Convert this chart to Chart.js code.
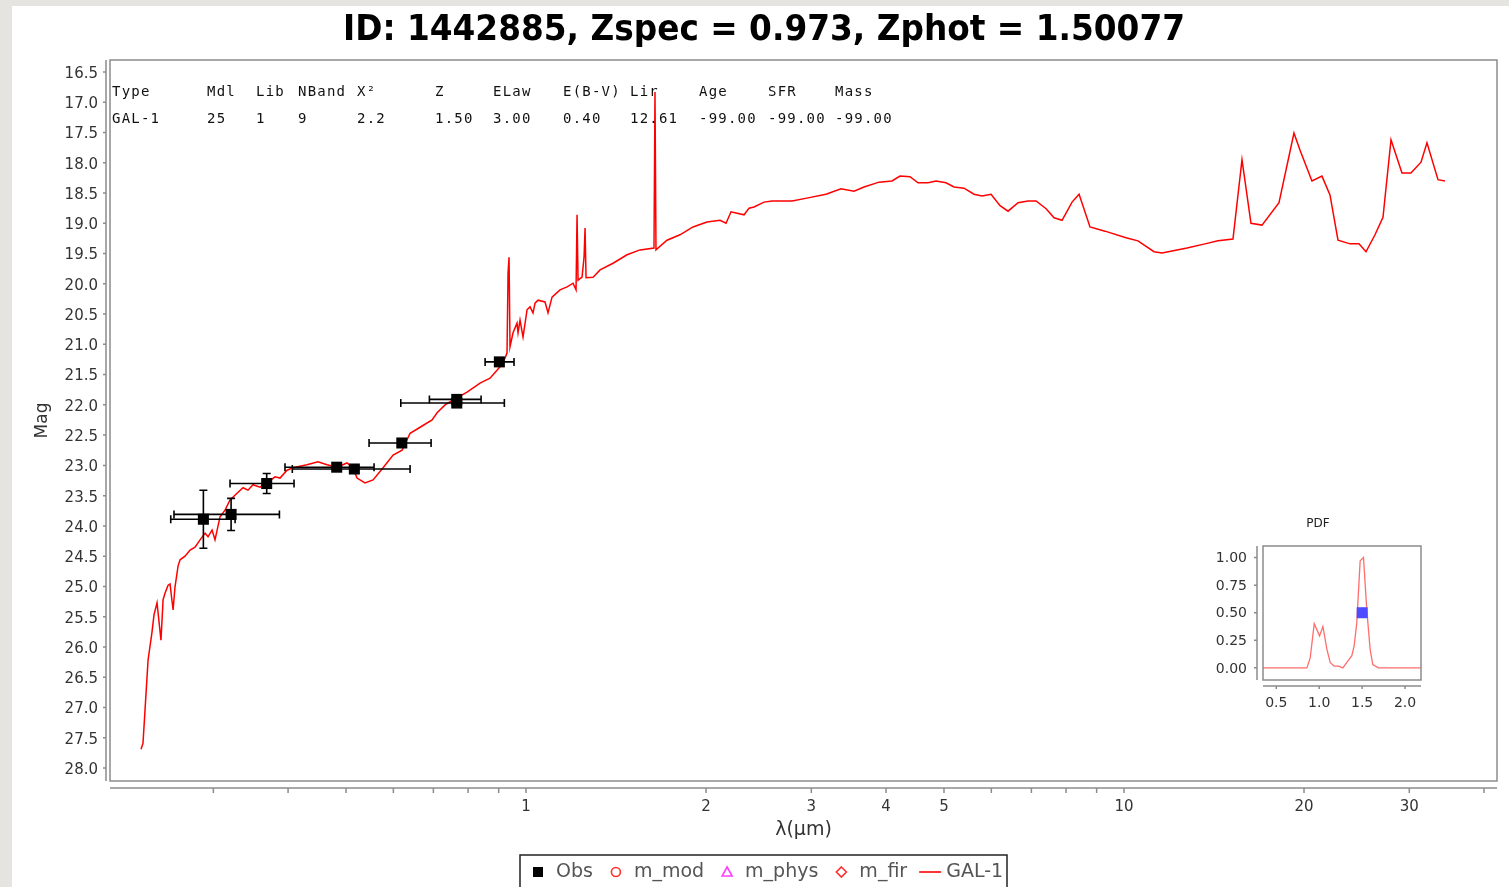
<!DOCTYPE html>
<html>
<head>
<meta charset="utf-8">
<script src="https://cdn.jsdelivr.net/npm/chart.js@4.4.0/dist/chart.umd.min.js"></script>
<style>
html, body { margin: 0; padding: 0; background: #e6e4e1; width: 1509px; height: 887px; overflow: hidden; }
#panel { position: absolute; left: 12px; top: 6px; width: 1497px; height: 881px; background: #fff; }
#mainChart { position: absolute; left: 0; top: 0; }
#pdfChart { position: absolute; left: 1178px; top: 499px; }
</style>
</head>
<body>
<div id="panel">
  <canvas id="mainChart" width="1497" height="881"></canvas>
  <canvas id="pdfChart" width="250" height="215"></canvas>
</div>
<script>
// SED of the best fit template (lambda in micron, AB mag)
const specLambda = [0.2271, 0.2288, 0.2306, 0.2333, 0.2369, 0.2387, 0.2415, 0.2452, 0.2472, 0.2491,
  0.2520, 0.2539, 0.2569, 0.2588, 0.2619, 0.2639, 0.2690, 0.2743, 0.2796, 0.2850,
  0.2906, 0.2939, 0.2985, 0.3019, 0.3078, 0.3138, 0.3199, 0.3286, 0.3363, 0.3428,
  0.3495, 0.3590, 0.3688, 0.3804, 0.3878, 0.3984, 0.4077, 0.4302, 0.4488, 0.4647,
  0.4830, 0.5019, 0.5137, 0.5216, 0.5380, 0.5549, 0.5767, 0.5994, 0.6205, 0.6399,
  0.6650, 0.6965, 0.7100, 0.7322, 0.7551, 0.7969, 0.8377, 0.8706, 0.9047, 0.9223,
  0.9295, 0.9331, 0.9367, 0.9402, 0.9512, 0.9659, 0.9697, 0.9772, 0.9885, 1.0039,
  1.0155, 1.0273, 1.0353, 1.0473, 1.0759, 1.0884, 1.1053, 1.1399, 1.1711, 1.1985,
  1.2124, 1.2171, 1.2218, 1.2408, 1.2504, 1.2552, 1.2600, 1.2945, 1.3299, 1.3981,
  1.4754, 1.5510, 1.6368, 1.6431, 1.6494, 1.7209, 1.8092, 1.9021, 2.0077, 2.1107,
  2.1601, 2.2021, 2.2449, 2.3152, 2.3603, 2.4061, 2.5003, 2.5786, 2.7858, 2.9620,
  3.1744, 3.3633, 3.5358, 3.6747, 3.8933, 4.0930, 4.2212, 4.3869, 4.5244, 4.7022,
  4.8494, 5.0393, 5.1968, 5.4007, 5.6128, 5.7889, 5.9930, 6.2047, 6.3991, 6.6502,
  6.9117, 7.1281, 7.4079, 7.6385, 7.8778, 8.1873, 8.4113, 8.7727, 9.2953, 10.077,
  10.554, 11.224, 11.575, 12.746, 13.659, 14.360, 15.214, 15.751, 16.306, 17.013,
  18.163, 19.241, 19.690, 20.621, 21.431, 22.104, 22.796, 23.874, 24.715, 25.391,
  26.286, 27.109, 27.958, 29.164, 30.192, 31.379, 32.112, 33.503, 34.416];
const specMag = [27.69, 27.59, 27.04, 26.22, 25.75, 25.47, 25.27, 25.89, 25.22, 25.11,
  24.98, 24.96, 25.39, 25.01, 24.66, 24.56, 24.50, 24.40, 24.35, 24.23,
  24.12, 24.18, 24.07, 24.23, 23.85, 23.74, 23.57, 23.46, 23.37, 23.41,
  23.32, 23.36, 23.29, 23.19, 23.21, 23.08, 23.04, 22.99, 22.94, 22.99,
  23.03, 22.96, 23.04, 23.21, 23.29, 23.24, 23.04, 22.83, 22.75, 22.47,
  22.37, 22.25, 22.13, 22.00, 21.92, 21.79, 21.64, 21.56, 21.37, 21.23,
  21.14, 19.82, 19.56, 21.04, 20.81, 20.65, 20.81, 20.60, 20.88, 20.43,
  20.38, 20.48, 20.32, 20.27, 20.30, 20.48, 20.22, 20.10, 20.05, 19.99,
  20.10, 18.86, 19.94, 19.89, 19.56, 19.08, 19.90, 19.89, 19.77, 19.66,
  19.52, 19.44, 19.41, 16.83, 19.44, 19.28, 19.19, 19.06, 18.98, 18.95,
  19.00, 18.81, 18.83, 18.86, 18.75, 18.73, 18.65, 18.63, 18.63, 18.58,
  18.52, 18.43, 18.47, 18.40, 18.32, 18.30, 18.22, 18.23, 18.33, 18.33,
  18.30, 18.33, 18.40, 18.42, 18.52, 18.55, 18.52, 18.71, 18.80, 18.66,
  18.63, 18.63, 18.76, 18.91, 18.95, 18.65, 18.52, 19.06, 19.13, 19.24,
  19.29, 19.47, 19.49, 19.41, 19.34, 19.29, 19.26, 17.95, 19.00, 19.03,
  18.66, 17.51, 17.79, 18.30, 18.22, 18.53, 19.28, 19.34, 19.34, 19.47,
  19.19, 18.90, 17.62, 18.17, 18.17, 17.99, 17.67, 18.28, 18.30];

// observed photometry (9 bands)
const obsLambda = [0.2887, 0.3212, 0.3684, 0.4824, 0.5163, 0.6198, 0.7659, 0.7659, 0.9024];
const obsMag = [23.89, 23.81, 23.30, 23.03, 23.06, 22.63, 21.97, 21.91, 21.29];
const obsMagErr = [0.48, 0.265, 0.165, 0.06, 0.06, 0.06, 0.06, 0.06, 0.06];
const obsLambdaLo = [0.2546, 0.2578, 0.3199, 0.3953, 0.4066, 0.5464, 0.6174, 0.6893, 0.8542];
const obsLambdaHi = [0.3262, 0.3869, 0.4093, 0.5570, 0.6399, 0.6938, 0.9199, 0.8411, 0.9548];

// redshift PDF
const pdfZ = [0.345, 0.857, 0.895, 0.942, 1.004, 1.043, 1.089, 1.128, 1.174, 1.225, 1.275,
  1.322, 1.380, 1.407, 1.438, 1.477, 1.516, 1.554, 1.593, 1.624, 1.690, 2.186];
const pdfProb = [0, 0, 0.09, 0.40, 0.29, 0.375, 0.17, 0.05, 0.015, 0.015, 0,
  0.05, 0.11, 0.20, 0.41, 0.97, 1.0, 0.53, 0.17, 0.03, 0, 0];
const zPhotMark = [1.50077];
const zPhotLevel = [0.5];

// axes
const xTickValues = [0.3, 0.4, 0.5, 0.6, 0.7, 0.8, 0.9, 1, 2, 3, 4, 5, 6, 7, 8, 9, 10, 20, 30, 40];
const xTickLabels = [1, 2, 3, 4, 5, 10, 20, 30];
const yTickValues = [16.5, 17.0, 17.5, 18.0, 18.5, 19.0, 19.5, 20.0, 20.5, 21.0, 21.5, 22.0,
  22.5, 23.0, 23.5, 24.0, 24.5, 25.0, 25.5, 26.0, 26.5, 27.0, 27.5, 28.0];
const pdfXTicks = [0.5, 1.0, 1.5, 2.0];
const pdfYTicks = [0, 0.25, 0.5, 0.75, 1.0];

// header text
const chartTitle = 'ID: 1442885, Zspec = 0.973, Zphot = 1.50077';
const tableHeaders = ['Type', 'Mdl', 'Lib', 'NBand', 'X²', 'Z', 'ELaw', 'E(B-V)', 'Lir', 'Age', 'SFR', 'Mass'];
const tableValues = ['GAL-1', '25', '1', '9', '2.2', '1.50', '3.00', '0.40', '12.61', '-99.00', '-99.00', '-99.00'];
const tableColX = [100, 195, 244, 286, 345, 423, 481, 551, 618, 687, 756, 823];

Chart.defaults.font.family = "'DejaVu Sans', sans-serif";
Chart.defaults.animation = false;

const toPoints = function (xs, ys) {
    return xs.map((x, i) => ({x: x, y: ys[i]}));
};

// frame, offset axis lines, error bars, title, table and legend
const sedDecor = {
    id: 'sedDecor',
    afterDatasetsDraw(chart) {
        const ctx = chart.ctx, sx = chart.scales.x, sy = chart.scales.y;
        ctx.save();
        ctx.strokeStyle = '#000';
        ctx.lineWidth = 1.6;
        for (let i = 0; i < obsLambda.length; i++) {
            const px = sx.getPixelForValue(obsLambda[i]);
            const py = sy.getPixelForValue(obsMag[i]);
            const x0 = sx.getPixelForValue(obsLambdaLo[i]);
            const x1 = sx.getPixelForValue(obsLambdaHi[i]);
            const y0 = sy.getPixelForValue(obsMag[i] - obsMagErr[i]);
            const y1 = sy.getPixelForValue(obsMag[i] + obsMagErr[i]);
            ctx.beginPath();
            ctx.moveTo(x0, py); ctx.lineTo(x1, py);
            ctx.moveTo(x0, py - 4); ctx.lineTo(x0, py + 4);
            ctx.moveTo(x1, py - 4); ctx.lineTo(x1, py + 4);
            ctx.moveTo(px, y0); ctx.lineTo(px, y1);
            ctx.moveTo(px - 4, y0); ctx.lineTo(px + 4, y0);
            ctx.moveTo(px - 4, y1); ctx.lineTo(px + 4, y1);
            ctx.stroke();
        }
        ctx.restore();
    },
    afterDraw(chart) {
        const ctx = chart.ctx, a = chart.chartArea, sx = chart.scales.x, sy = chart.scales.y;
        ctx.save();
        // plot frame
        ctx.strokeStyle = '#8c8c8c';
        ctx.lineWidth = 1.5;
        ctx.strokeRect(a.left, a.top, a.right - a.left, a.bottom - a.top);
        // x axis line + ticks
        const axY = a.bottom + 7;
        ctx.beginPath();
        ctx.moveTo(a.left, axY); ctx.lineTo(a.right, axY);
        xTickValues.forEach(v => {
            const px = sx.getPixelForValue(v);
            ctx.moveTo(px, axY); ctx.lineTo(px, axY + 5);
        });
        // y axis line + ticks
        const axX = a.left - 4;
        ctx.moveTo(axX, a.top); ctx.lineTo(axX, a.bottom);
        yTickValues.forEach(v => {
            const py = sy.getPixelForValue(v);
            ctx.moveTo(axX, py); ctx.lineTo(axX - 3, py);
        });
        ctx.stroke();

        // title, squeezed to the reference width
        ctx.fillStyle = '#000';
        ctx.font = "bold 36px 'DejaVu Sans'";
        ctx.textBaseline = 'middle';
        ctx.textAlign = 'center';
        const tw = ctx.measureText(chartTitle).width;
        ctx.save();
        ctx.translate(752, 25);
        ctx.scale(842 / tw, 1);
        ctx.fillText(chartTitle, 0, 0);
        ctx.restore();

        // fit summary table
        ctx.font = "14px 'DejaVu Sans Mono'";
        ctx.letterSpacing = '1.2px';
        ctx.textAlign = 'left';
        ctx.fillStyle = '#111';
        tableHeaders.forEach((t, i) => ctx.fillText(t, tableColX[i], 86));
        tableValues.forEach((t, i) => ctx.fillText(t, tableColX[i], 113));
        ctx.letterSpacing = '0px';

        // legend
        const boxL = 508, boxT = 849, boxR = 995;
        ctx.fillStyle = '#fff';
        ctx.fillRect(boxL, boxT, boxR - boxL, 40);
        ctx.strokeStyle = '#222';
        ctx.lineWidth = 1.5;
        ctx.strokeRect(boxL, boxT, boxR - boxL, 40);
        ctx.font = "19px 'DejaVu Sans'";
        ctx.textBaseline = 'middle';
        const cy = 866;
        let cur = boxL + 13;
        chart.data.datasets.forEach(ds => {
            const col = ds.borderColor;
            ctx.lineWidth = 1.6;
            ctx.strokeStyle = col;
            ctx.fillStyle = col;
            let textX;
            if (ds.legendMark === 'line') {
                cur -= 6;
                ctx.beginPath(); ctx.moveTo(cur, cy); ctx.lineTo(cur + 22, cy); ctx.stroke();
                textX = cur + 27;
            } else {
                const cx = cur + 5;
                ctx.beginPath();
                if (ds.legendMark === 'rect') {
                    ctx.fillRect(cx - 5, cy - 5, 10, 10);
                } else if (ds.legendMark === 'circle') {
                    ctx.arc(cx, cy, 4.5, 0, Math.PI * 2); ctx.stroke();
                } else if (ds.legendMark === 'triangle') {
                    ctx.moveTo(cx, cy - 5); ctx.lineTo(cx + 5, cy + 4); ctx.lineTo(cx - 5, cy + 4);
                    ctx.closePath(); ctx.stroke();
                } else if (ds.legendMark === 'diamond') {
                    ctx.moveTo(cx, cy - 5); ctx.lineTo(cx + 5, cy); ctx.lineTo(cx, cy + 5); ctx.lineTo(cx - 5, cy);
                    ctx.closePath(); ctx.stroke();
                }
                textX = cx + 18;
            }
            ctx.fillStyle = '#555';
            ctx.fillText(ds.label, textX, cy);
            cur = textX + ctx.measureText(ds.label).width + 18;
        });
        ctx.restore();
    }
};

const mainChart = new Chart(document.getElementById('mainChart'), {
    type: 'line',
    data: {
        datasets: [{
            label: 'Obs',
            legendMark: 'rect',
            data: toPoints(obsLambda, obsMag),
            showLine: false,
            pointStyle: 'rect',
            pointRadius: 7.8,
            backgroundColor: '#000',
            borderColor: '#000',
            borderWidth: 0
        }, {
            label: 'm_mod',
            legendMark: 'circle',
            data: [],
            showLine: false,
            pointStyle: 'circle',
            borderColor: '#ff3030'
        }, {
            label: 'm_phys',
            legendMark: 'triangle',
            data: [],
            showLine: false,
            pointStyle: 'triangle',
            borderColor: '#ff40ff'
        }, {
            label: 'm_fir',
            legendMark: 'diamond',
            data: [],
            showLine: false,
            pointStyle: 'rectRot',
            borderColor: '#ff3030'
        }, {
            label: 'GAL-1',
            legendMark: 'line',
            data: toPoints(specLambda, specMag),
            borderColor: '#ff0000',
            borderWidth: 1.5,
            pointRadius: 0,
            tension: 0,
            fill: false
        }]
    },
    options: {
        responsive: false,
        layout: {padding: {top: 54, right: 12, bottom: 36, left: 0}},
        plugins: {
            legend: {display: false},
            tooltip: {enabled: false}
        },
        scales: {
            x: {
                type: 'logarithmic',
                min: 0.2015,
                max: 42.05,
                afterBuildTicks: s => { s.ticks = xTickValues.map(v => ({value: v})); },
                afterFit: s => { s.height = 70; },
                ticks: {
                    autoSkip: false,
                    maxRotation: 0,
                    padding: 17,
                    color: '#333',
                    font: {size: 15},
                    callback: v => xTickLabels.includes(v) ? String(v) : ''
                },
                grid: {display: false, drawTicks: false},
                border: {display: false},
                title: {display: true, text: 'λ(µm)', color: '#333', font: {size: 19}, padding: {top: 0, bottom: 10}}
            },
            y: {
                type: 'linear',
                reverse: true,
                min: 16.302,
                max: 28.215,
                afterBuildTicks: s => { s.ticks = yTickValues.map(v => ({value: v})); },
                afterFit: s => { s.width = 98; },
                ticks: {
                    autoSkip: false,
                    padding: 12,
                    labelOffset: 2,
                    color: '#333',
                    font: {size: 15},
                    callback: v => v.toFixed(1)
                },
                grid: {display: false, drawTicks: false},
                border: {display: false},
                title: {display: true, text: 'Mag', color: '#333', font: {size: 17}, padding: {top: 20, bottom: 0}}
            }
        }
    },
    plugins: [sedDecor]
});

// inset: redshift probability
const pdfDecor = {
    id: 'pdfDecor',
    afterDraw(chart) {
        const ctx = chart.ctx, a = chart.chartArea, sx = chart.scales.x, sy = chart.scales.y;
        ctx.save();
        ctx.strokeStyle = '#8c8c8c';
        ctx.lineWidth = 1.5;
        ctx.strokeRect(a.left, a.top, a.right - a.left, a.bottom - a.top);
        ctx.beginPath();
        const axX = a.left - 6, axY = a.bottom + 6;
        ctx.moveTo(axX, a.top); ctx.lineTo(axX, a.bottom);
        ctx.moveTo(a.left, axY); ctx.lineTo(a.right, axY);
        pdfXTicks.forEach(v => {
            const px = sx.getPixelForValue(v);
            ctx.moveTo(px, axY); ctx.lineTo(px, axY + 3);
        });
        pdfYTicks.forEach(v => {
            const py = sy.getPixelForValue(v);
            ctx.moveTo(axX, py); ctx.lineTo(axX - 3, py);
        });
        ctx.stroke();
        ctx.fillStyle = '#222';
        ctx.font = "12px 'DejaVu Sans'";
        ctx.textAlign = 'center';
        ctx.textBaseline = 'middle';
        ctx.fillText('PDF', 128, 19);
        ctx.restore();
    }
};

const pdfChart = new Chart(document.getElementById('pdfChart'), {
    type: 'line',
    data: {
        datasets: [{
            label: 'zphot',
            data: toPoints(zPhotMark, zPhotLevel),
            showLine: false,
            pointStyle: 'rect',
            pointRadius: 7.8,
            backgroundColor: '#4d4dff',
            borderWidth: 0
        }, {
            label: 'PDF',
            data: toPoints(pdfZ, pdfProb),
            borderColor: 'rgba(255, 60, 60, 0.75)',
            borderWidth: 1.3,
            pointRadius: 0,
            tension: 0
        }]
    },
    options: {
        responsive: false,
        layout: {padding: {top: 41, right: 19, bottom: 10, left: 0}},
        plugins: {legend: {display: false}, tooltip: {enabled: false}},
        scales: {
            x: {
                type: 'linear',
                min: 0.345,
                max: 2.186,
                afterBuildTicks: s => { s.ticks = pdfXTicks.map(v => ({value: v})); },
                afterFit: s => { s.height = 30; },
                ticks: {padding: 15, color: '#333', font: {size: 14}, callback: v => v.toFixed(1)},
                grid: {display: false, drawTicks: false},
                border: {display: false}
            },
            y: {
                type: 'linear',
                min: -0.11,
                max: 1.105,
                afterBuildTicks: s => { s.ticks = pdfYTicks.map(v => ({value: v})); },
                afterFit: s => { s.width = 73; },
                ticks: {padding: 16, labelOffset: 1, color: '#333', font: {size: 14}, callback: v => v.toFixed(2)},
                grid: {display: false, drawTicks: false},
                border: {display: false}
            }
        }
    },
    plugins: [pdfDecor]
});
</script>
</body>
</html>
